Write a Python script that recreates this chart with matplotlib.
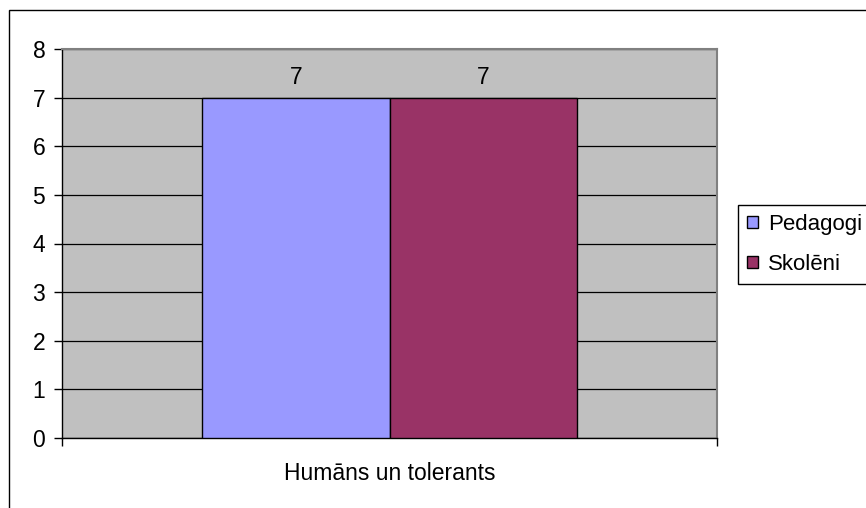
import matplotlib
matplotlib.use("Agg")
import matplotlib.pyplot as plt
from matplotlib.patches import Rectangle

plt.rcParams["font.family"] = ["Liberation Sans", "DejaVu Sans"]

category = "Humāns un tolerants"
series_names = ["Pedagogi", "Skolēni"]
series_values = [7, 7]
series_colors = ["#9999FF", "#993366"]

fig = plt.figure(figsize=(8.66, 5.08), dpi=100)
ax = fig.add_axes([62 / 866, 70 / 508, 655 / 866, 389 / 508])
ax.set_facecolor("#C0C0C0")

width = 0.2863
offsets = [-width / 2, width / 2]
for name, val, col, off in zip(series_names, series_values, series_colors, offsets):
    ax.bar(off, val, width, color=col, edgecolor="black", linewidth=1, label=name, zorder=3)
    ax.text(off, val + 0.42, str(val), ha="center", va="center", fontsize=16.5, zorder=4)

ax.set_xlim(-0.5, 0.5)
ax.set_ylim(0, 8)
ax.set_yticks(range(0, 9))
ax.yaxis.grid(True, color="black", linewidth=0.9, zorder=1)
ax.set_axisbelow(True)

ax.set_xticks([-0.5, 0.5])
ax.set_xticklabels(["", ""])
ax.set_xticks([0], [category], minor=True)
ax.tick_params(axis="x", which="minor", length=0, pad=17, labelsize=16.5)
ax.tick_params(axis="x", which="major", length=6, width=1, direction="out")
ax.tick_params(axis="y", length=6, width=1, direction="out", labelsize=16.5, pad=6)

for side in ["top", "right"]:
    ax.spines[side].set_color("#808080")
    ax.spines[side].set_linewidth(1.5)
for side in ["left", "bottom"]:
    ax.spines[side].set_color("black")
    ax.spines[side].set_linewidth(1)

leg = ax.legend(loc="upper left", bbox_to_anchor=(738 / 866, 1 - 205 / 508),
                bbox_transform=fig.transFigure, fontsize=16, frameon=True,
                fancybox=False, framealpha=1, edgecolor="black",
                handlelength=0.5, handleheight=0.5, handletextpad=0.45,
                borderpad=0.4, borderaxespad=0, labelspacing=0.85)
leg.get_frame().set_linewidth(1)
for h in leg.legend_handles:
    h.set_edgecolor("black")
    h.set_linewidth(1)

fig.patches.append(Rectangle((9 / 866, -0.1), 2, 1.1 - 10 / 508, fill=False,
                             edgecolor="black", linewidth=1,
                             transform=fig.transFigure, figure=fig))

fig.savefig("out.png", dpi=100)
